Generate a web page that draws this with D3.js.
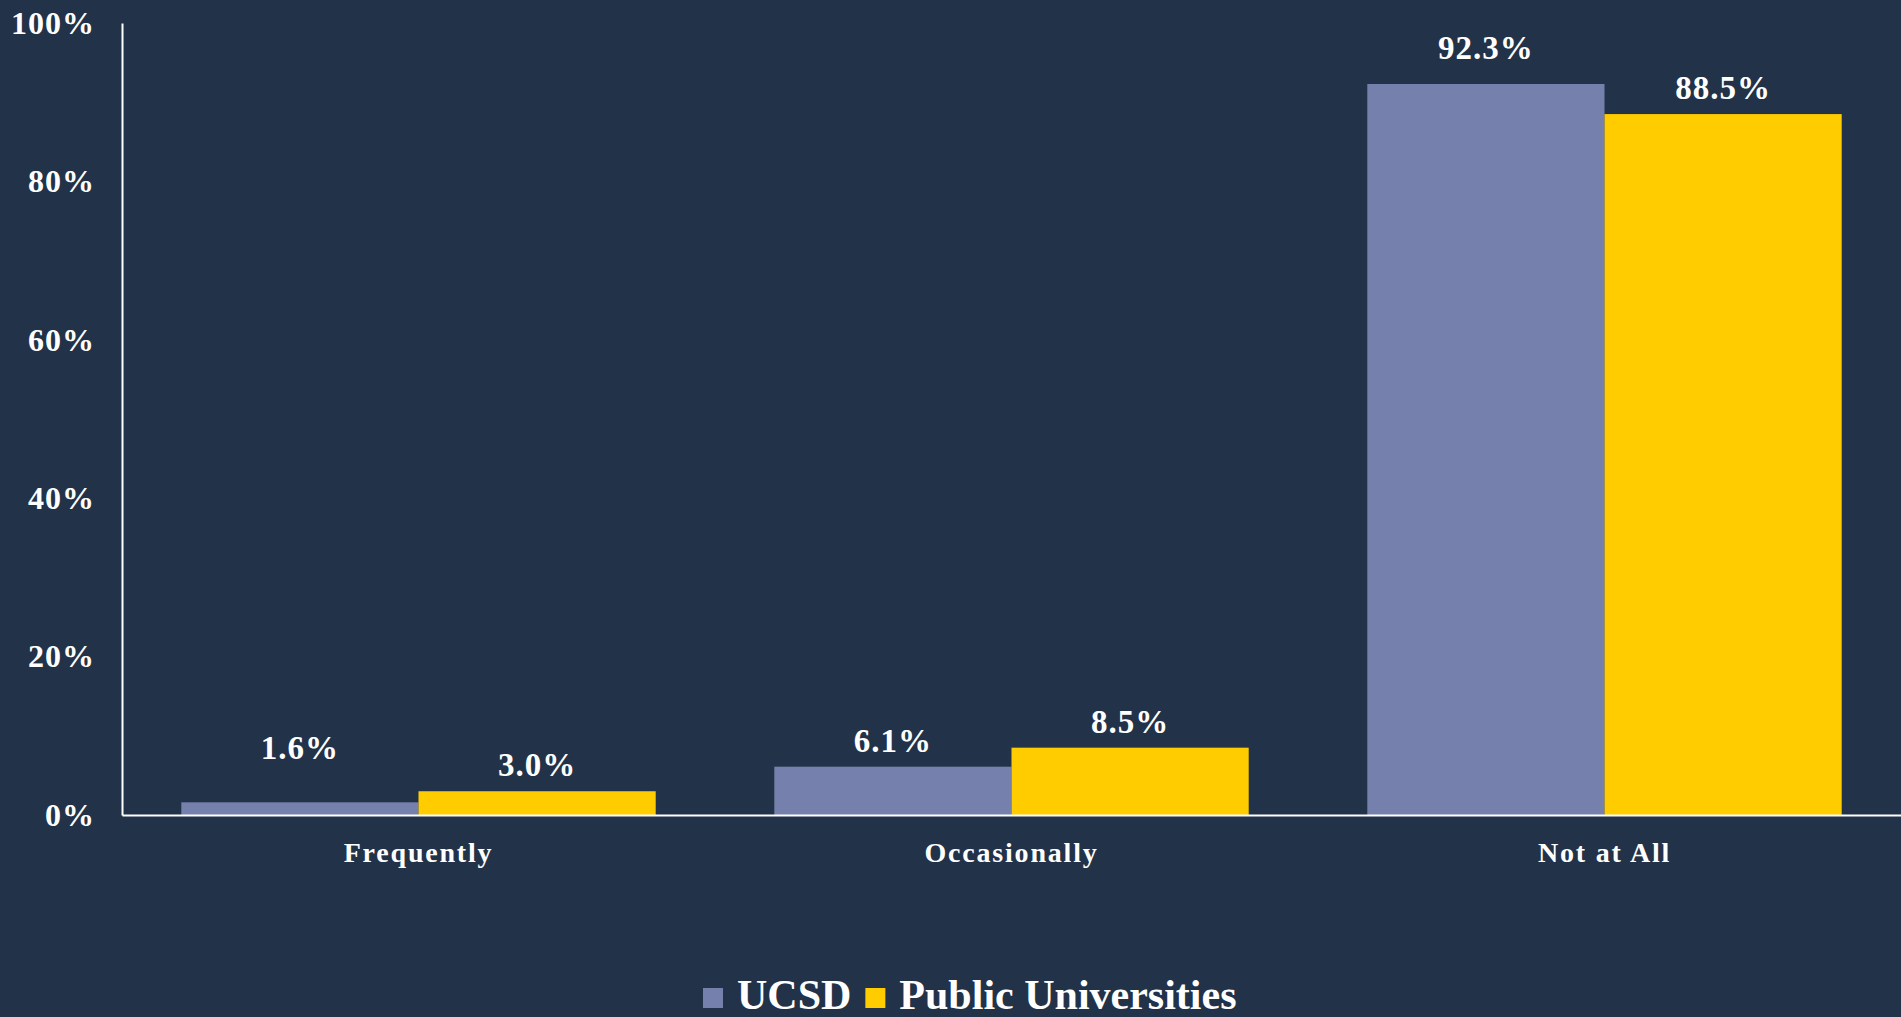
<!DOCTYPE html>
<html><head><meta charset="utf-8">
<script src="https://cdn.jsdelivr.net/npm/d3@7"></script>
<style>
html,body{margin:0;padding:0;background:#223248;overflow:hidden}
svg{display:block}
text{font-family:"Liberation Serif","DejaVu Serif",serif;font-weight:bold;fill:#fff}
</style></head><body>
<svg id="c" width="1901" height="1017"></svg>
<script>
const categories = ["Frequently", "Occasionally", "Not at All"];
const seriesNames = ["UCSD", "Public Universities"];
const ucsd = [1.6, 6.1, 92.3];
const publicUniv = [3.0, 8.5, 88.5];
const yTicks = [0, 20, 40, 60, 80, 100];
const colors = ["#7580ac", "#ffcc00"];
// extra label lift (px) to mimic manual label placement in the source
const labelLift = [[28, 0, 10], [0, 0, 0]];

const W = 1901, H = 1017;
const m = {left: 122, right: 0, top: 23, bottom: 202};
const svg = d3.select("#c");
svg.append("rect").attr("width", W).attr("height", H).attr("fill", "#223248");

const x0 = d3.scaleBand().domain(categories).range([m.left, W - m.right]).paddingInner(0.2).paddingOuter(0.1);
const x1 = d3.scaleBand().domain(seriesNames).range([0, x0.bandwidth()]);
const y = d3.scaleLinear().domain([0, 100]).range([H - m.bottom, m.top]);

const series = [ucsd, publicUniv];
const g = svg.append("g");
series.forEach((vals, si) => {
  g.selectAll(null).data(vals).enter().append("rect")
    .attr("x", (d, i) => x0(categories[i]) + x1(seriesNames[si]))
    .attr("width", x1.bandwidth())
    .attr("y", d => y(d))
    .attr("height", d => y(0) - y(d))
    .attr("fill", colors[si]);
  g.selectAll(null).data(vals).enter().append("text")
    .attr("x", (d, i) => x0(categories[i]) + x1(seriesNames[si]) + x1.bandwidth() / 2)
    .attr("y", (d, i) => y(d) - 15 - labelLift[si][i])
    .attr("text-anchor", "middle")
    .attr("font-size", 33)
    .style("letter-spacing", "1px")
    .text(d => d.toFixed(1) + "%");
});

// y axis
const yAxis = svg.append("g").attr("transform", `translate(${m.left},0)`)
  .call(d3.axisLeft(y).tickValues(yTicks).tickSize(0).tickPadding(27).tickFormat(d => d + "%"));
yAxis.select(".domain").attr("stroke", "#fff").attr("stroke-width", 2);
yAxis.selectAll("text").attr("font-size", 32).attr("fill", "#fff")
  .style("font-family", '"Liberation Serif",serif').style("font-weight", "bold")
  .style("letter-spacing", "1px");

// x axis
const xAxis = svg.append("g").attr("transform", `translate(0,${y(0)})`)
  .call(d3.axisBottom(x0).tickSize(0).tickPadding(27));
xAxis.select(".domain").attr("stroke", "#fff").attr("stroke-width", 2);
xAxis.selectAll("text").attr("font-size", 28).attr("fill", "#fff")
  .style("font-family", '"Liberation Serif",serif').style("font-weight", "bold")
  .style("letter-spacing", "1.8px");

// legend
const leg = svg.append("g");
const legFont = 42;
let lx = 703;
const ly = 1009;
seriesNames.forEach((n, i) => {
  leg.append("rect").attr("x", lx).attr("y", ly - 21).attr("width", 20).attr("height", 20).attr("fill", colors[i]);
  const t = leg.append("text").attr("x", lx + 34).attr("y", ly).attr("font-size", legFont).text(n);
  lx += 34 + t.node().getComputedTextLength() + 14;
});
</script>
</body></html>
